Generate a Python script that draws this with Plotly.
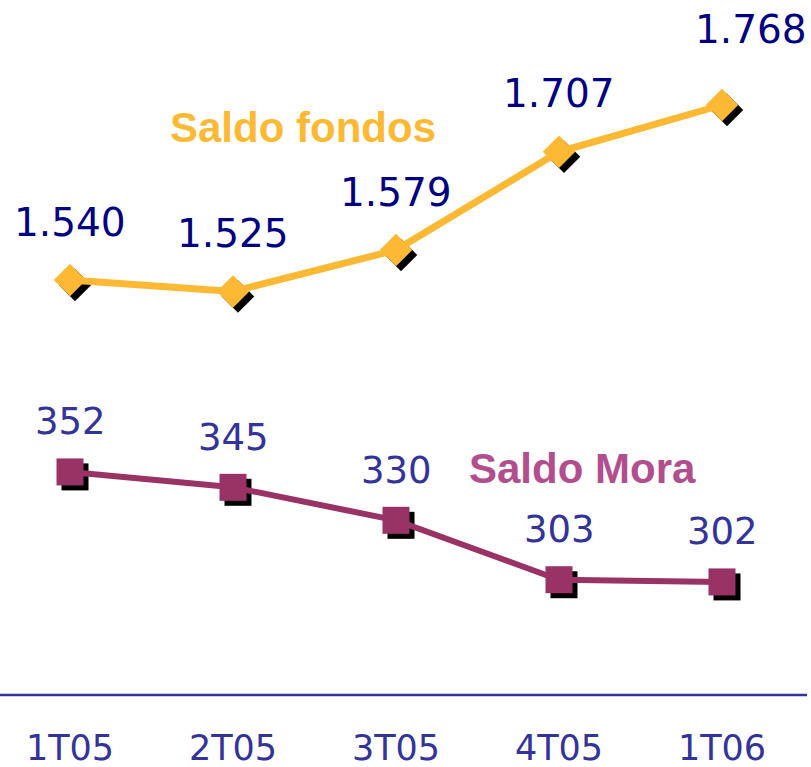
import plotly.graph_objects as go

quarters = ["1T05", "2T05", "3T05", "4T05", "1T06"]
saldo_fondos = [1540, 1525, 1579, 1707, 1768]
saldo_mora = [352, 345, 330, 303, 302]
fondos_text = ["1.540", "1.525", "1.579", "1.707", "1.768"]
mora_text = ["352", "345", "330", "303", "302"]

ORANGE = "#FDB933"
MAROON = "#993366"
NAVY = "#000080"
BLUE = "#333399"
PINK = "#B24E8E"

W, H = 811, 767
PLOT_H = 695
PX_PER_CAT = 163.0
X0 = -70 / PX_PER_CAT
X1 = (W - 70) / PX_PER_CAT

F_RANGE = [999.3, 1904.8]
M_RANGE = [250.6, 566.5]
f_pp = PLOT_H / (F_RANGE[1] - F_RANGE[0])
m_pp = PLOT_H / (M_RANGE[1] - M_RANGE[0])
SH = 5  # shadow offset in px

fig = go.Figure()

# shadows (base axes, drawn underneath)
fig.add_trace(go.Scatter(x=quarters, y=saldo_fondos, mode="markers",
                         marker=dict(symbol="diamond", size=25, color="black"),
                         xaxis="x", yaxis="y", hoverinfo="skip", showlegend=False))
fig.add_trace(go.Scatter(x=quarters, y=saldo_mora, mode="markers",
                         marker=dict(symbol="square", size=27, color="black"),
                         xaxis="x", yaxis="y2", hoverinfo="skip", showlegend=False))
# main series
fig.add_trace(go.Scatter(x=quarters, y=saldo_fondos, mode="lines+markers", name="Saldo fondos",
                         line=dict(color=ORANGE, width=7),
                         marker=dict(symbol="diamond", size=25, color=ORANGE),
                         xaxis="x2", yaxis="y3", showlegend=False))
fig.add_trace(go.Scatter(x=quarters, y=saldo_mora, mode="lines+markers", name="Saldo Mora",
                         line=dict(color=MAROON, width=6),
                         marker=dict(symbol="square", size=27, color=MAROON),
                         xaxis="x2", yaxis="y4", showlegend=False))

annotations = []
for i, (q, v, t) in enumerate(zip(quarters, saldo_fondos, fondos_text)):
    xs, ys = (29, 76) if i == len(quarters) - 1 else (0, 58)
    annotations.append(dict(x=q, y=v, xref="x2", yref="y3", text=t, showarrow=False,
                            xshift=xs, yshift=ys, xanchor="center", yanchor="middle",
                            font=dict(family="DejaVu Sans", size=39, color=NAVY)))
for q, v, t in zip(quarters, saldo_mora, mora_text):
    annotations.append(dict(x=q, y=v, xref="x2", yref="y4", text=t, showarrow=False,
                            yshift=50, xanchor="center", yanchor="middle",
                            font=dict(family="DejaVu Sans", size=37, color=BLUE)))
annotations.append(dict(x=303 / W, y=(PLOT_H - 127.5) / PLOT_H, xref="paper", yref="paper",
                        text="<b>Saldo fondos</b>", showarrow=False,
                        xanchor="center", yanchor="middle",
                        font=dict(family="Liberation Sans, Arial", size=42, color=ORANGE)))
annotations.append(dict(x=582 / W, y=(PLOT_H - 468) / PLOT_H, xref="paper", yref="paper",
                        text="<b>Saldo Mora</b>", showarrow=False,
                        xanchor="center", yanchor="middle",
                        font=dict(family="Liberation Sans, Arial", size=42, color=PINK)))

dx = SH / PX_PER_CAT
fig.update_layout(
    width=W, height=H,
    margin=dict(l=0, r=0, t=0, b=H - PLOT_H),
    paper_bgcolor="white", plot_bgcolor="white",
    xaxis=dict(type="category", range=[X0 - dx, X1 - dx], showgrid=False, zeroline=False,
               showticklabels=False, showline=False, automargin=False),
    xaxis2=dict(type="category", overlaying="x", range=[X0, X1], showgrid=False, zeroline=False,
                showline=False, ticks="", ticklabelstandoff=29, automargin=False,
                tickfont=dict(family="DejaVu Sans", size=35, color=BLUE)),
    yaxis=dict(range=[F_RANGE[0] + SH / f_pp, F_RANGE[1] + SH / f_pp], visible=False),
    yaxis2=dict(range=[M_RANGE[0] + SH / m_pp, M_RANGE[1] + SH / m_pp], overlaying="y", visible=False),
    yaxis3=dict(range=F_RANGE, overlaying="y", visible=False),
    yaxis4=dict(range=M_RANGE, overlaying="y", visible=False),
    annotations=annotations,
    shapes=[dict(type="line", xref="paper", yref="paper", x0=0, x1=807 / W, y0=0, y1=0,
                 line=dict(color=BLUE, width=2.5))],
)

fig.write_html("out.html", config={"displayModeBar": False},
               post_script="document.body.style.margin='0';document.body.style.overflow='hidden';")
